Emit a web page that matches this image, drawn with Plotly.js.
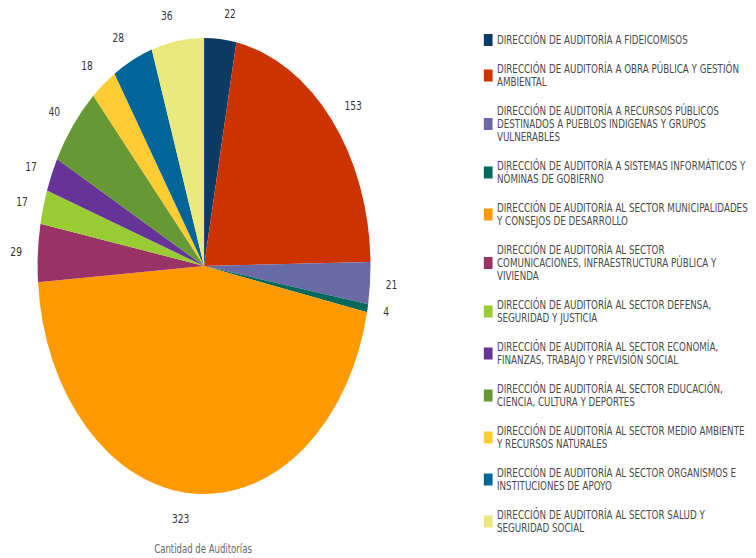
<!DOCTYPE html>
<html>
<head>
<meta charset="utf-8">
<script src="https://cdn.plot.ly/plotly-3.0.1.min.js"></script>
<style>
html,body{margin:0;padding:0;overflow:hidden;background:#fff;width:756px;height:558px}
#wrap{width:756px;height:558px;overflow:hidden;position:relative}
#chart{width:1036px;height:558px;transform:scaleX(0.73);transform-origin:0 0;position:absolute;left:0;top:0}
.legend g.legendpoints{transform:translate(8px,-6.5px)}
</style>
</head>
<body>
<div id="wrap"><div id="chart"></div></div>
<script>
const categories = [
  "DIRECCIÓN DE AUDITORÍA A FIDEICOMISOS",
  "DIRECCIÓN DE AUDITORÍA A OBRA PÚBLICA Y GESTIÓN<br>AMBIENTAL",
  "DIRECCIÓN DE AUDITORÍA A RECURSOS PÚBLICOS<br>DESTINADOS A PUEBLOS INDIGENAS Y GRUPOS<br>VULNERABLES",
  "DIRECCIÓN DE AUDITORÍA A SISTEMAS INFORMÁTICOS Y<br>NÓMINAS DE GOBIERNO",
  "DIRECCIÓN DE AUDITORÍA AL SECTOR MUNICIPALIDADES<br>Y CONSEJOS DE DESARROLLO",
  "DIRECCIÓN DE AUDITORÍA AL SECTOR<br>COMUNICACIONES, INFRAESTRUCTURA PÚBLICA Y<br>VIVIENDA",
  "DIRECCIÓN DE AUDITORÍA AL SECTOR DEFENSA,<br>SEGURIDAD Y JUSTICIA",
  "DIRECCIÓN DE AUDITORÍA AL SECTOR ECONOMÍA,<br>FINANZAS, TRABAJO Y PREVISIÓN SOCIAL",
  "DIRECCIÓN DE AUDITORÍA AL SECTOR EDUCACIÓN,<br>CIENCIA, CULTURA Y DEPORTES",
  "DIRECCIÓN DE AUDITORÍA AL SECTOR MEDIO AMBIENTE<br>Y RECURSOS NATURALES",
  "DIRECCIÓN DE AUDITORÍA AL SECTOR ORGANISMOS E<br>INSTITUCIONES DE APOYO",
  "DIRECCIÓN DE AUDITORÍA AL SECTOR SALUD Y<br>SEGURIDAD SOCIAL"
];
const auditorias = [22, 153, 21, 4, 323, 29, 17, 17, 40, 18, 28, 36];
const sliceColors = [
  "#0d3b66", "#cc3300", "#6a6aa6", "#00695c", "#ff9900", "#993366",
  "#99cc33", "#663399", "#669933", "#ffcc33", "#006699", "#ebe97b"
];
const seriesName = "Cantidad de Auditorías";

const LEG_SPAN = '<span style="font-size:12px">';
const legendLabels = categories.map(c =>
  c.split('<br>').map(l => LEG_SPAN + l + '</span>').join('<br>') + '<br>\u00a0'
);

// visible pie
const pieTrace = {
  type: 'pie',
  labels: legendLabels,
  values: auditorias,
  sort: false,
  direction: 'clockwise',
  rotation: 0,
  marker: {colors: sliceColors, line: {width: 0}},
  textinfo: 'none',
  domain: {x: [0.0497, 0.4899], y: [0.1147, 0.9319]},
  hoverinfo: 'label+value',
  name: seriesName
};

// same data on a slightly larger transparent ring, used only to place the value labels
const labelTrace = {
  type: 'pie',
  labels: legendLabels,
  values: auditorias,
  sort: false,
  direction: 'clockwise',
  rotation: 0,
  marker: {colors: auditorias.map(() => 'rgba(0,0,0,0)'), line: {width: 0}},
  textinfo: 'value',
  textposition: 'outside',
  outsidetextfont: {family: 'DejaVu Sans', size: 12.5, color: '#333333'},
  domain: {x: [0.0323, 0.5072], y: [0.0824, 0.9642]},
  showlegend: false,
  hoverinfo: 'skip',
  name: seriesName
};

const layout = {
  width: 1036,
  height: 558,
  margin: {l: 0, r: 0, t: 0, b: 0},
  paper_bgcolor: '#ffffff',
  plot_bgcolor: '#ffffff',
  font: {family: 'DejaVu Sans', color: '#444444'},
  showlegend: true,
  legend: {
    x: 0.6185, xanchor: 'left',
    y: 0.9516, yanchor: 'top',
    font: {family: 'DejaVu Sans', size: 10, color: '#4a4a4a'},
    bgcolor: 'rgba(0,0,0,0)',
    borderwidth: 0
  },
  title: {
    text: seriesName,
    x: 0.2685, xanchor: 'center',
    y: 0.016, yanchor: 'middle',
    font: {family: 'DejaVu Sans', size: 11.7, color: '#666666'}
  }
};

Plotly.newPlot('chart', [labelTrace, pieTrace], layout, {staticPlot: true, displayModeBar: false});
</script>
</body>
</html>
